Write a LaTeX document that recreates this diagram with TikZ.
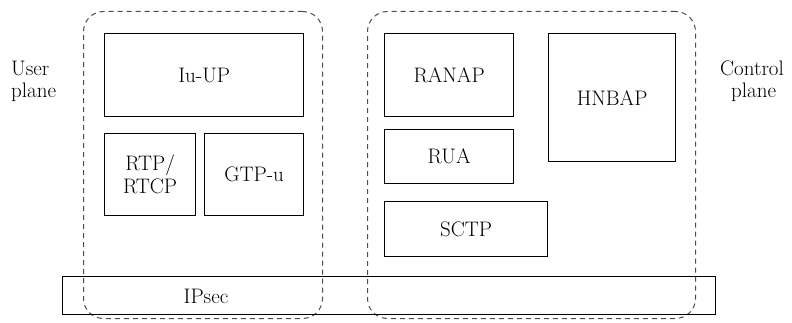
\documentclass[tikz,border=0pt]{standalone}
\usetikzlibrary{positioning}
\begin{document}
\begin{tikzpicture}[x=1pt,y=-1pt,
  txt/.style={font=\fontsize{21}{23}\selectfont},
  layer/.style={txt,draw=black,line width=1.3pt,rectangle,anchor=north west,inner sep=0pt,align=center},
  plane/.style={draw=black!70,line width=1pt,dash pattern=on 5pt off 4pt,rounded corners=20pt,
    rectangle,anchor=north west,inner sep=0pt},
  side/.style={font=\fontsize{21}{22}\selectfont,align=left,anchor=north west,inner sep=0pt}]
\useasboundingbox (0,0) rectangle (792,323);

% dashed plane groupings
\node[plane,minimum width=239pt,minimum height=307pt] (up) at (83,11) {};
\node[plane,minimum width=328pt,minimum height=307pt] (cp) at (367,11) {};

% user plane stack
\node[layer,minimum width=199pt,minimum height=83pt] (iuup) at (104,33) {Iu-UP};
\node[layer,minimum width=91pt,minimum height=82pt] (rtp) at (104,133) {RTP/\\RTCP};
\node[layer,minimum width=99pt,minimum height=82pt] (gtp) at (204,133) {GTP-u};

% control plane stack
\node[layer,minimum width=129pt,minimum height=83pt] (ranap) at (384,33) {RANAP};
\node[layer,minimum width=129pt,minimum height=54pt] (rua) at (384,129) {RUA};
\node[layer,minimum width=163pt,minimum height=55pt] (sctp) at (384,201) {SCTP};
\node[layer,minimum width=127pt,minimum height=128pt] (hnbap) at (548,33) {HNBAP};

% shared transport
\node[layer,minimum width=653pt,minimum height=38pt] (ipsec) at (62,276) {};
\node[txt,inner sep=0pt,anchor=base] (ipsect) at (206,303) {IPsec};

% side labels
\node[side] (ul) at (11,61) {User\\plane};
\node[side] (cl) at (720,61) {Control\\\hspace*{11pt}plane};
\end{tikzpicture}
\end{document}
